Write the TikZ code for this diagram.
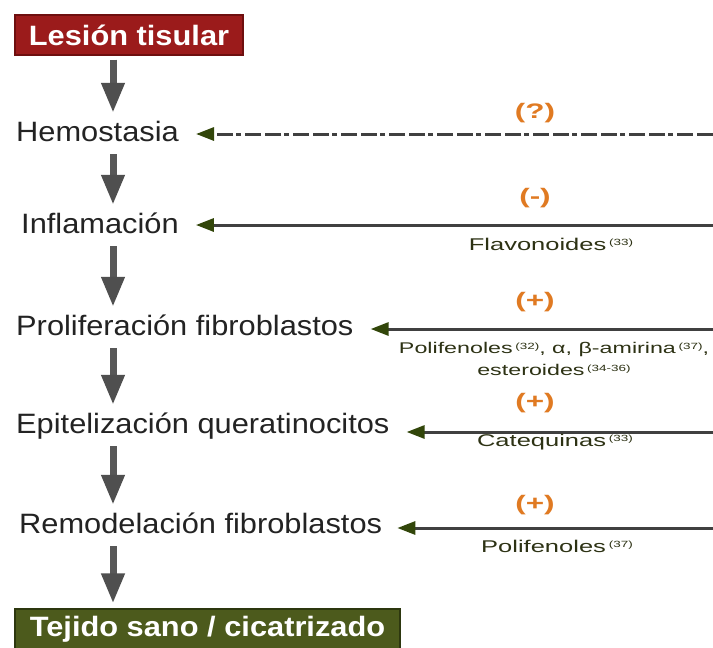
\documentclass[tikz,border=0pt]{standalone}
\usepackage{fontspec}
\setmainfont{Liberation Sans}
\newfontfamily\stepf{Liberation Sans}[FakeStretch=1.1]
\newfontfamily\smallf{Liberation Sans}[FakeStretch=1.5]
\usetikzlibrary{arrows.meta}
\definecolor{redbox}{RGB}{155,27,27}
\definecolor{rededge}{RGB}{110,15,15}
\definecolor{olivebox}{RGB}{76,90,28}
\definecolor{oliveedge}{RGB}{45,55,15}
\definecolor{orangec}{RGB}{224,122,34}
\definecolor{labc}{RGB}{45,50,20}
\definecolor{tipgreen}{RGB}{50,70,10}
\definecolor{stepc}{RGB}{35,35,35}
\definecolor{grayarr}{RGB}{88,88,88}
\newcommand\cit[1]{\raisebox{0.55ex}{\fontsize{9}{9}\selectfont(#1)}}
\begin{document}
\begin{tikzpicture}[x=1pt,y=-1pt,
  titlebox/.style={draw=#1, line width=1.2pt, minimum height=40pt, inner sep=0pt,
     text=white, font=\stepf\bfseries\fontsize{28}{30}\selectfont},
  stepnode/.style={anchor=base west, inner sep=3pt, text=stepc, text height=20pt, text depth=6pt,
     font=\stepf\fontsize{28}{30}\selectfont},
  downarr/.style={draw=grayarr, line width=7pt, shorten <=4pt, shorten >=5pt,
     -{Triangle[width=22pt,length=30pt,color=grayarr!90!black]}},
  sidearr/.style={draw=black!75, line width=3pt,
     -{Triangle[width=13pt,length=18pt,color=tipgreen]}},
  signlab/.style={text=orangec, font=\smallf\bfseries\fontsize{21}{22}\selectfont, inner sep=0pt},
  complab/.style={text=labc, font=\smallf\fontsize{17}{22}\selectfont, inner sep=0pt, align=center}
]
\useasboundingbox (0,0) rectangle (713,648);
\fill[white] (0,0) rectangle (713,648);

\coordinate (ax) at (113,0);

\node[titlebox=rededge, fill=redbox, minimum width=228pt] (les) at (129,35) {Lesión tisular};
\node[stepnode] (hem) at (13,141) {Hemostasia};
\node[stepnode] (inf) at (18,233) {Inflamación};
\node[stepnode] (pro) at (13,335) {Proliferación fibroblastos};
\node[stepnode] (epi) at (13,433) {Epitelización queratinocitos};
\node[stepnode] (rem) at (16,533) {Remodelación fibroblastos};
\node[titlebox=oliveedge, fill=olivebox, minimum width=385pt] (tej) at (207.5,629) {Tejido sano / cicatrizado};

\draw[downarr] (les.south -| ax) -- (hem.north -| ax);
\draw[downarr] (hem.south -| ax) -- (inf.north -| ax);
\draw[downarr] (inf.south -| ax) -- (pro.north -| ax);
\draw[downarr] (pro.south -| ax) -- (epi.north -| ax);
\draw[downarr] (epi.south -| ax) -- (rem.north -| ax);
\draw[downarr] (rem.south -| ax) -- (tej.north -| ax);

\coordinate (r1) at (713,134);
\coordinate (r2) at (713,225);
\coordinate (r3) at (713,329);
\coordinate (r4) at (713,432);
\coordinate (r5) at (713,528);

\draw[sidearr, dash pattern=on 16pt off 4pt on 16pt off 4pt on 5pt off 3pt] (r1) -- ([xshift=14pt]hem.east |- r1);
\draw[sidearr] (r2) -- ([xshift=14pt]inf.east |- r2);
\draw[sidearr] (r3) -- ([xshift=14pt]pro.east |- r3);
\draw[sidearr] (r4) -- ([xshift=14pt]epi.east |- r4);
\draw[sidearr] (r5) -- ([xshift=12pt]rem.east |- r5);

\node[signlab] (s1) at (535,113) {(?)};
\node[signlab] (s2) at (535,198) {(-)};
\node[signlab] (s3) at (535,302) {(+)};
\node[signlab] (s4) at (535,403) {(+)};
\node[signlab] (s5) at (535,505) {(+)};

\node[complab] (c2) at (551,244) {Flavonoides\,\cit{33}};
\node[complab, font=\smallf\fontsize{15.5}{22}\selectfont] (c3) at (554,359) {Polifenoles\,\cit{32}, α, β-amirina\,\cit{37},\\esteroides\,\cit{34-36}};
\node[complab] (c4) at (555,442) {Catequinas\,\cit{33}};
\node[complab] (c5) at (557,546) {Polifenoles\,\cit{37}};
\end{tikzpicture}
\end{document}
